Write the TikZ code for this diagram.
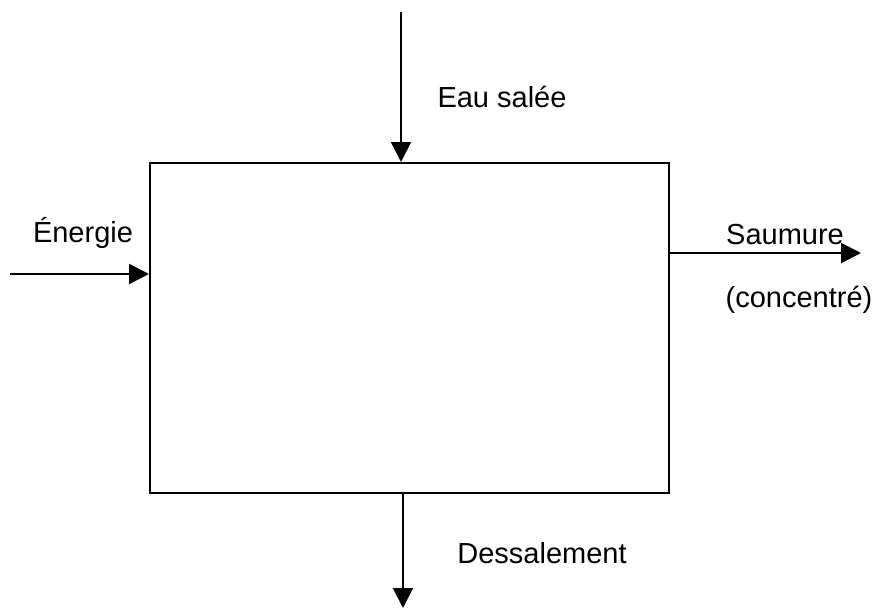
\documentclass[tikz,border=0pt]{standalone}
\usepackage{fontspec}
\setmainfont{Liberation Sans}
\usetikzlibrary{arrows.meta}
\begin{document}
\begin{tikzpicture}[x=0.5pt,y=-0.5pt,line width=1pt,
  fleche/.style={-{Triangle[length=10pt,width=10pt]}},
  etiquette/.style={font=\fontsize{14.5pt}{17pt}\selectfont,inner sep=0pt}]
\useasboundingbox (0,0) rectangle (875,616);
\node[draw,minimum width=259.5pt,minimum height=165pt,inner sep=0pt] (boite) at (409.5,328) {};
\coordinate (haut) at (401,12);
\coordinate (gauche) at (10,274);
\coordinate (droite) at (861,253);
\coordinate (bas) at (403,608);
\draw[fleche] (haut) -- (haut |- boite.north);
\draw[fleche] (gauche) -- (gauche -| boite.west);
\draw[fleche] (droite -| boite.east) -- (droite);
\draw[fleche] (bas |- boite.south) -- (bas);
\node[etiquette] (eau) at (502,97) {Eau salée};
\node[etiquette] (energie) at (83,233) {Énergie};
\node[etiquette] (saumure) at (785,235) {Saumure};
\node[etiquette] (concentre) at (799,300) {(concentré)};
\node[etiquette] (dessal) at (542,553) {Dessalement};
\end{tikzpicture}
\end{document}
